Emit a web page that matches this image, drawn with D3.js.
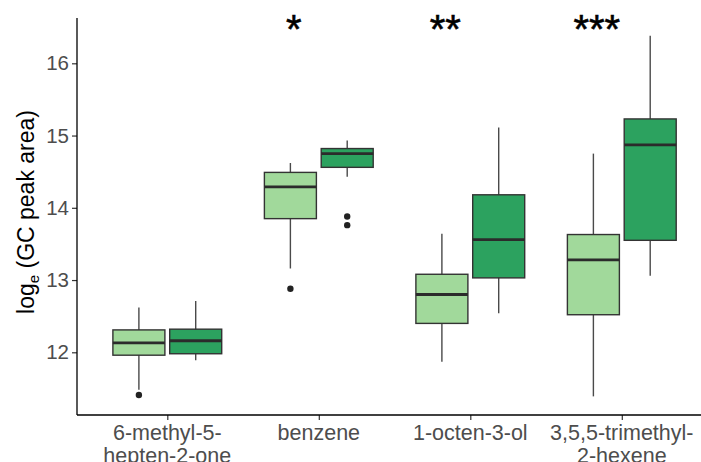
<!DOCTYPE html>
<html>
<head>
<meta charset="utf-8">
<script src="https://cdn.jsdelivr.net/npm/d3@7"></script>
<style>
  html, body { margin: 0; padding: 0; background: #fff; }
  svg { display: block; }
  text { font-family: "Liberation Sans", Arial, sans-serif; }
</style>
</head>
<body>
<svg id="chart" width="701" height="462"></svg>
<script>
// ---- data ----
const categories = ["6-methyl-5-\nhepten-2-one", "benzene", "1-octen-3-ol", "3,5,5-trimethyl-\n2-hexene"];
const groups = ["group A", "group B"];
const groupColors = ["#a1d99b", "#2ca25f"];

const lightWhiskerLow  = [11.48, 13.16, 11.87, 11.39];
const lightQ1          = [11.96, 13.85, 12.40, 12.52];
const lightMedian      = [12.13, 14.29, 12.80, 13.28];
const lightQ3          = [12.31, 14.49, 13.08, 13.63];
const lightWhiskerHigh = [12.62, 14.62, 13.64, 14.75];
const lightOutliers    = [[11.41], [12.88], [], []];

const darkWhiskerLow  = [11.89, 14.43, 12.54, 13.06];
const darkQ1          = [11.98, 14.56, 13.03, 13.55];
const darkMedian      = [12.16, 14.75, 13.56, 14.87];
const darkQ3          = [12.32, 14.82, 14.18, 15.23];
const darkWhiskerHigh = [12.71, 14.93, 15.11, 16.38];
const darkOutliers    = [[], [13.88, 13.76], [], []];

const significance = ["", "*", "**", "***"];
const yTicks = [12, 13, 14, 15, 16];

// ---- build table ----
const boxes = [];
categories.forEach((c, i) => {
  boxes.push({cat: c, g: 0, lo: lightWhiskerLow[i], q1: lightQ1[i], med: lightMedian[i], q3: lightQ3[i], hi: lightWhiskerHigh[i], out: lightOutliers[i]});
  boxes.push({cat: c, g: 1, lo: darkWhiskerLow[i], q1: darkQ1[i], med: darkMedian[i], q3: darkQ3[i], hi: darkWhiskerHigh[i], out: darkOutliers[i]});
});

// ---- layout ----
const svg = d3.select("#chart");
const plotLeft = 77, plotBottom = 415, plotTop = 18;
const step = 151.5;
const x = d3.scalePoint().domain(categories).range([167.3, 167.3 + 3 * step]);
const xg = d3.scaleBand().domain([0, 1]).range([-0.375 * step, 0.375 * step]);
const y = d3.scaleLinear().domain([12, 16]).range([352.3, 63.3]);
const boxW = 52;

const cx = d => x(d.cat) + xg(d.g) + xg.bandwidth() / 2;

const g = svg.append("g");

// whiskers
g.selectAll("line.wh").data(boxes).enter().append("line")
  .attr("x1", cx).attr("x2", cx)
  .attr("y1", d => y(d.hi)).attr("y2", d => y(d.lo))
  .attr("stroke", "#4a4a4a").attr("stroke-width", 1.4);

// boxes
g.selectAll("rect.box").data(boxes).enter().append("rect")
  .attr("x", d => cx(d) - boxW / 2).attr("width", boxW)
  .attr("y", d => y(d.q3)).attr("height", d => y(d.q1) - y(d.q3))
  .attr("fill", d => groupColors[d.g])
  .attr("stroke", "#333").attr("stroke-width", 1.4);

// medians
g.selectAll("line.med").data(boxes).enter().append("line")
  .attr("x1", d => cx(d) - boxW / 2).attr("x2", d => cx(d) + boxW / 2)
  .attr("y1", d => y(d.med)).attr("y2", d => y(d.med))
  .attr("stroke", "#2b2b2b").attr("stroke-width", 2.8);

// outliers
const outs = [];
boxes.forEach(b => b.out.forEach(v => outs.push({b, v})));
g.selectAll("circle.out").data(outs).enter().append("circle")
  .attr("cx", d => cx(d.b)).attr("cy", d => y(d.v)).attr("r", 3.2)
  .attr("fill", "#222");

// significance stars
svg.selectAll("text.sig").data(categories).enter().append("text")
  .attr("x", (c, i) => x(c) - 25)
  .attr("y", 43)
  .attr("text-anchor", "middle")
  .attr("font-size", 40)
  .attr("stroke", "#000").attr("stroke-width", 0.6)
  .attr("fill", "#000")
  .text((c, i) => significance[i]);

// y axis
const yAxis = d3.axisLeft(y).tickValues(yTicks).tickSize(5).tickPadding(3).tickFormat(d3.format("d"));
const ya = svg.append("g").attr("transform", `translate(${plotLeft},0)`).call(yAxis);
ya.select(".domain").remove();
ya.selectAll(".tick line").attr("stroke", "#333").attr("stroke-width", 1.2);
ya.selectAll(".tick text").attr("font-size", 20.5).attr("fill", "#4d4d4d")
  .attr("font-family", "Liberation Sans, Arial, sans-serif");
svg.append("line").attr("x1", plotLeft).attr("x2", plotLeft).attr("y1", plotTop).attr("y2", plotBottom)
  .attr("stroke", "#000").attr("stroke-width", 1.3);

// x axis
const xAxis = d3.axisBottom(x).tickSize(5).tickFormat("");
const xa = svg.append("g").attr("transform", `translate(0,${plotBottom})`).call(xAxis);
xa.select(".domain").remove();
xa.selectAll(".tick line").attr("stroke", "#333").attr("stroke-width", 1.2);
svg.append("line").attr("x1", plotLeft).attr("x2", 701).attr("y1", plotBottom).attr("y2", plotBottom)
  .attr("stroke", "#000").attr("stroke-width", 1.3);

// x tick labels (multi-line)
categories.forEach(c => {
  const t = svg.append("text")
    .attr("x", x(c)).attr("y", 440)
    .attr("text-anchor", "middle")
    .attr("font-size", 21.5).attr("fill", "#4d4d4d");
  c.split("\n").forEach((line, k) => {
    t.append("tspan").attr("x", x(c)).attr("dy", k === 0 ? 0 : 23.4).text(line);
  });
});

// y axis title
const yt = svg.append("text")
  .attr("transform", "translate(34,212) rotate(-90)")
  .attr("text-anchor", "middle")
  .attr("font-size", 23).attr("fill", "#000");
yt.append("tspan").text("log");
yt.append("tspan").attr("font-size", 15).attr("dy", 5).text("e");
yt.append("tspan").attr("dy", -5).text(" (GC peak area)");
</script>
</body>
</html>
